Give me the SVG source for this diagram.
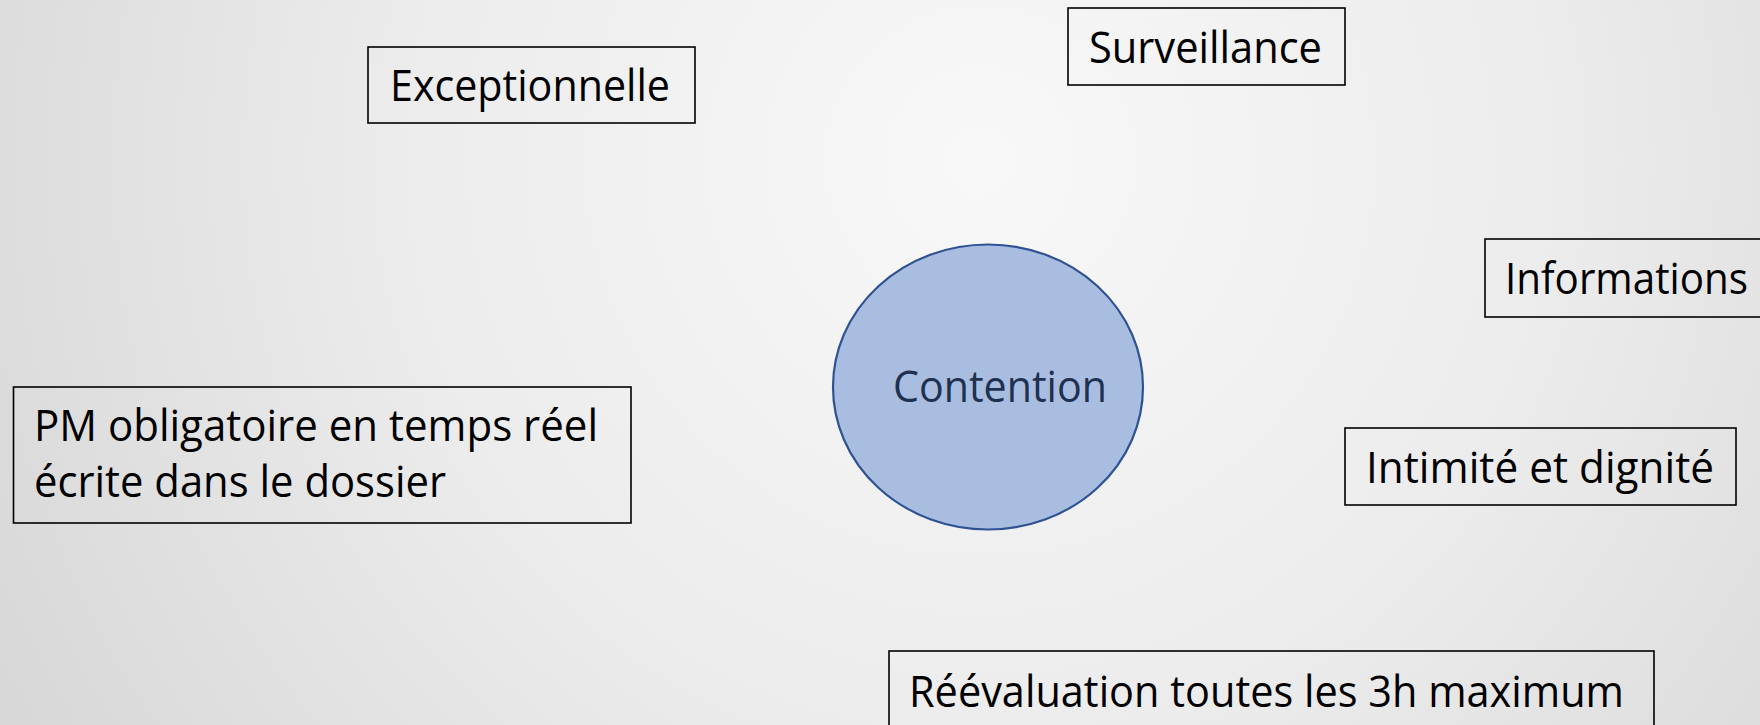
<svg xmlns="http://www.w3.org/2000/svg" width="1760" height="725" viewBox="0 0 1760 725">
<defs>
<radialGradient id="bg" gradientUnits="userSpaceOnUse" cx="980" cy="160" r="1150">
<stop offset="0" stop-color="#F8F8F8"/>
<stop offset="0.5" stop-color="#ECECEC"/>
<stop offset="1" stop-color="#D6D6D6"/>
</radialGradient>
<style>
.box{fill:none;stroke:#000;stroke-width:1.6}
.t{font-family:"Open Sans","Noto Sans","Liberation Sans",sans-serif;font-size:43px;fill:#000}
.ct{fill:#1F3150}
</style>
</defs>
<rect x="0" y="0" width="1760" height="725" fill="url(#bg)"/>
<g id="connectors"/>
<g id="contention">
<ellipse cx="988" cy="387" rx="155" ry="142.5" fill="#A9BDE0" stroke="#2F5293" stroke-width="2.2"/>
<text class="t ct" x="893" y="402" textLength="214" lengthAdjust="spacingAndGlyphs">Contention</text>
</g>
<g id="exceptionnelle">
<rect class="box" x="368" y="47" width="327" height="76"/>
<text class="t" x="390" y="101" textLength="280" lengthAdjust="spacingAndGlyphs">Exceptionnelle</text>
</g>
<g id="surveillance">
<rect class="box" x="1068" y="8" width="277" height="77"/>
<text class="t" x="1089" y="63" textLength="233" lengthAdjust="spacingAndGlyphs">Surveillance</text>
</g>
<g id="informations">
<rect class="box" x="1485" y="239" width="280" height="78"/>
<text class="t" x="1505" y="294" textLength="243" lengthAdjust="spacingAndGlyphs">Informations</text>
</g>
<g id="pm">
<rect class="box" x="13.5" y="387" width="617.5" height="136"/>
<text class="t" x="34" y="441" textLength="564" lengthAdjust="spacingAndGlyphs">PM obligatoire en temps réel</text>
<text class="t" x="34" y="497" textLength="412" lengthAdjust="spacingAndGlyphs">écrite dans le dossier</text>
</g>
<g id="intimite">
<rect class="box" x="1345" y="428" width="391" height="77"/>
<text class="t" x="1366" y="483" textLength="348" lengthAdjust="spacingAndGlyphs">Intimité et dignité</text>
</g>
<g id="reevaluation">
<rect class="box" x="889" y="651" width="765" height="90"/>
<text class="t" x="909" y="707" textLength="715" lengthAdjust="spacingAndGlyphs">Réévaluation toutes les 3h maximum</text>
</g>
</svg>
